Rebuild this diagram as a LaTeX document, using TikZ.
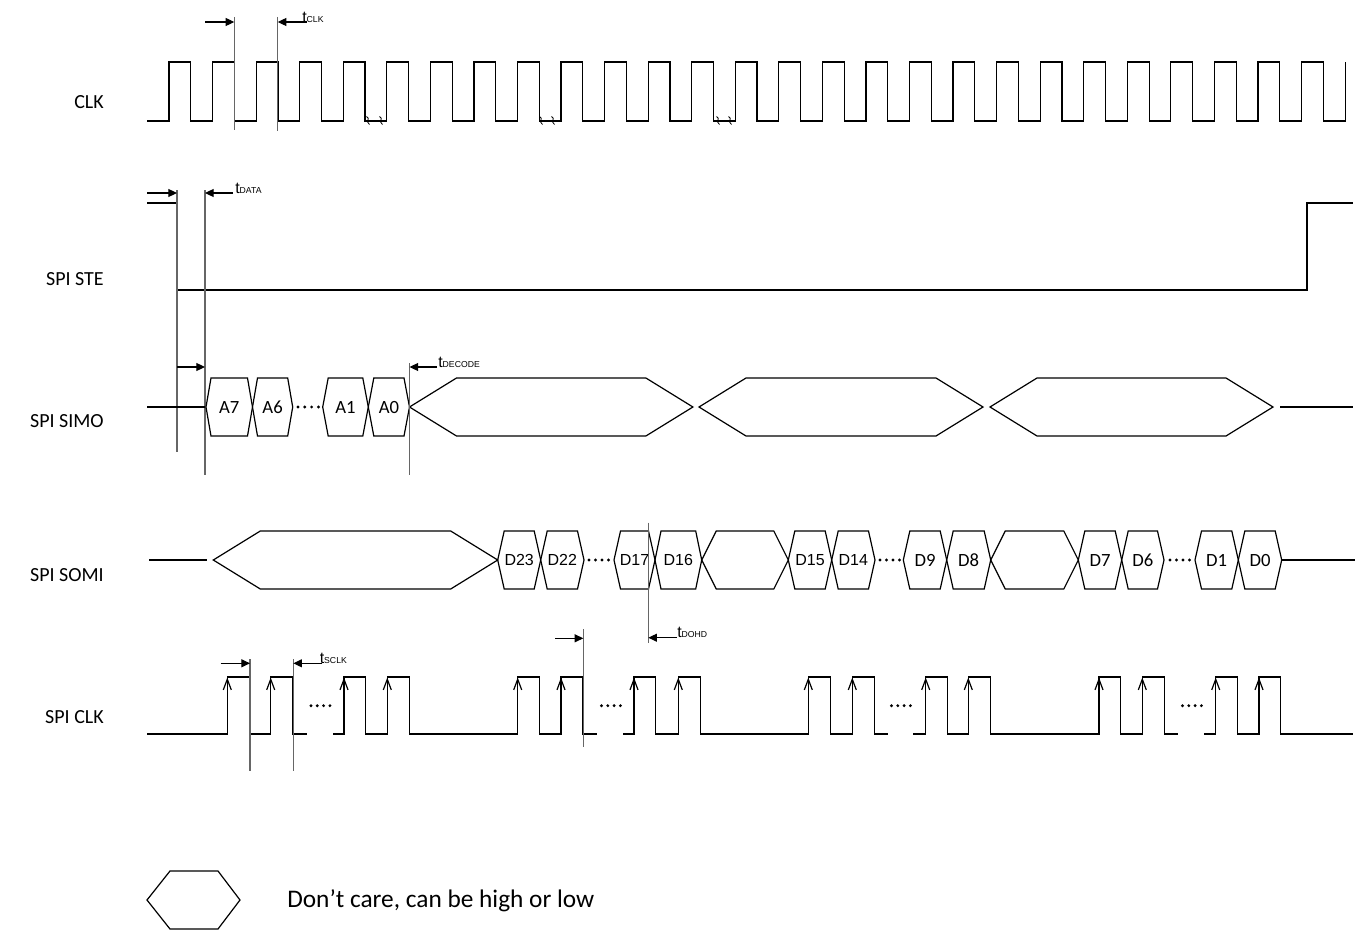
\documentclass[tikz,border=0pt]{standalone}
\usepackage{fontspec}
\setmainfont{Carlito}
\newfontfamily\arialfont{Liberation Sans}
\usetikzlibrary{arrows.meta}

\begin{document}
\begin{tikzpicture}[
    x=0.75pt, y=-0.75pt,
    sig/.style={line width=0.9pt, line join=miter},
    guide/.style={line width=0.8pt, draw=black!60},
    tarrow/.style={line width=0.8pt, -{Triangle[length=6.5pt,width=6pt]}},
    tlab/.style={inner sep=0pt, anchor=base west,
      font=\arialfont\fontsize{12}{12}\selectfont},
    rowlab/.style={anchor=east, inner sep=0pt, font=\fontsize{15}{18}\selectfont},
    cellc/.style={inner sep=0pt, text height=9pt, text depth=0pt,
      font=\fontsize{14}{16}\selectfont},
    cella/.style={inner sep=0pt, text height=8.6pt, text depth=0pt,
      font=\arialfont\fontsize{12}{14}\selectfont},
    rise/.style={line width=0.9pt, -{Straight Barb[length=8pt,width=6pt]}}
  ]
    \useasboundingbox (0,0) rectangle (1356,931);

    % row labels
    \node[rowlab] (lclk) at (104,102) {CLK};
    \node[rowlab] (lste) at (104,279) {SPI STE};
    \node[rowlab] (lsimo) at (104,421) {SPI SIMO};
    \node[rowlab] (lsomi) at (104,575) {SPI SOMI};
    \node[rowlab] (lsclk) at (104,717) {SPI CLK};

    % CLK
    \draw[sig] (147,121) -- (169,121)
      \foreach \k in {0,...,26} { -- ++(0,-59) -- ++(21.78,0) -- ++(0,59) -- ++(21.78,0) }
      -- ++(0,-59);
    \foreach \x in {368,381,541,553,718,730}
      \draw[line width=0.6pt] (\x-1.5,116.5) .. controls (\x+3,118.5) and (\x-3,121.5) .. (\x+1.5,124.5);
    \draw[guide] (234.3,17) -- (234.3,130);
    \draw[guide] (277.7,17) -- (277.7,131);
    \draw[tarrow] (205,22) -- (234.3,22);
    \draw[tarrow] (306.7,22) -- (277.7,22);
    \node[tlab] (tclk) at (302,22.3) {t{\fontsize{6.5}{7}\selectfont CLK}};

    % SPI STE
    \draw[sig] (147,203) -- (177,203) -- (177,290) -- (1307,290) -- (1307,203) -- (1353,203);
    \draw[guide] (177,190) -- (177,452);
    \draw[guide] (205,190) -- (205,475);
    \draw[tarrow] (147,193) -- (177,193);
    \draw[tarrow] (233,193) -- (205,193);
    \node[tlab] (tdata) at (235,193) {t{\fontsize{6.5}{7}\selectfont DATA}};

    % SPI SIMO
    \draw[sig] (147,407) -- (205,407);
    \draw[sig] (1280,407) -- (1353,407);
    \foreach \a/\b/\o/\l [count=\i] in {206/252.5/5/A7, 252.5/292.7/5/A6,
        322.7/368.3/5.5/A1, 368.3/409.5/5.5/A0, 409.5/692.9/47/,
        699/983/47/, 990/1273/47/} {
      \draw[sig] (\a,407) -- ({\a+\o},378) -- ({\b-\o},378) -- (\b,407)
        -- ({\b-\o},436) -- ({\a+\o},436) -- cycle;
      \node[cellc] (simo\i) at ({(\a+\b)/2},407) {\l};
    }
    \foreach \d in {0,...,3} \fill ({298+6.8*\d},407) circle (1.6);
    \draw[tarrow] (177,367) -- (205,367);
    \draw[guide] (409.5,363) -- (409.5,475);
    \draw[tarrow] (437,367) -- (409.5,367);
    \node[tlab] (tdecode) at (438,367.5) {t{\fontsize{6.5}{7}\selectfont DECODE}};

    % SPI SOMI
    \draw[sig] (149,560) -- (207.3,560);
    \draw[sig] (1281.7,560) -- (1355,560);
    \foreach \a/\b/\o/\l/\s [count=\i] in {213.3/497.7/47//cella,
        497.7/540.7/6.5/D23/cella, 540.7/584/6.5/D22/cella,
        614/655/6.5/D17/cella, 655/701.7/6/D16/cella,
        701.7/788.3/14.5//cella, 788.3/831.7/6.5/D15/cella,
        831.7/875/6.5/D14/cella, 903.3/946.7/6.5/D9/cellc,
        946.7/990.7/6.5/D8/cellc, 990.7/1078.3/14.5//cellc,
        1078.3/1121.7/6.5/D7/cellc, 1121.7/1164/6.5/D6/cellc,
        1195/1238.3/6.5/D1/cellc, 1238.3/1281.7/6.5/D0/cellc} {
      \draw[sig] (\a,560) -- ({\a+\o},531) -- ({\b-\o},531) -- (\b,560)
        -- ({\b-\o},589) -- ({\a+\o},589) -- cycle;
      \node[\s] (somi\i) at ({(\a+\b)/2},560) {\l};
    }
    \foreach \x in {589,880,1170}
      \foreach \d in {0,...,3} \fill ({\x+6.5*\d},560) circle (1.6);
    \draw[guide] (648.3,522.7) -- (648.3,643.3);
    \draw[tarrow] (676.7,637.7) -- (648.3,637.7);
    \node[tlab] (tdohd) at (677,637.7) {t{\fontsize{6.5}{7}\selectfont DOHD}};

    % SPI CLK
    \draw[sig] (147,734) \foreach \r in {227.3,270.7}
      { -- (\r,734) -- (\r,677) -- ({\r+21.8},677) -- ({\r+21.8},734) } -- (306.7,734);
    \draw[sig] (333.3,734) \foreach \r in {344,387.3,517.7,561}
      { -- (\r,734) -- (\r,677) -- ({\r+21.8},677) -- ({\r+21.8},734) } -- (597.3,734);
    \draw[sig] (623.3,734) \foreach \r in {634,678.3,808.3,852.3}
      { -- (\r,734) -- (\r,677) -- ({\r+21.8},677) -- ({\r+21.8},734) } -- (888.3,734);
    \draw[sig] (913.3,734) \foreach \r in {925.7,968.3,1099,1142.3}
      { -- (\r,734) -- (\r,677) -- ({\r+21.8},677) -- ({\r+21.8},734) } -- (1178.3,734);
    \draw[sig] (1204.3,734) \foreach \r in {1215.7,1259}
      { -- (\r,734) -- (\r,677) -- ({\r+21.8},677) -- ({\r+21.8},734) } -- (1353,734);
    \foreach \r in {227.3,270.7,344,387.3,517.7,561,634,678.3,808.3,852.3,
        925.7,968.3,1099,1142.3,1215.7,1259}
      \draw[rise] (\r,700) -- (\r,677.5);
    \foreach \x in {311,601.5,891.5,1182.5}
      \foreach \d in {0,...,3} \fill ({\x+6.3*\d},705.7) circle (1.6);
    \draw[guide] (250,659) -- (250,771);
    \draw[guide] (293.3,659) -- (293.3,771);
    \draw[tarrow] (220.7,663.3) -- (250,663.3);
    \draw[tarrow] (321.7,663.3) -- (293.3,663.3);
    \node[tlab] (tsclk) at (319.5,663.3) {t{\fontsize{6.5}{7}\selectfont SCLK}};
    \draw[guide] (583.3,629) -- (583.3,747);
    \draw[tarrow] (555,638.3) -- (583.3,638.3);

    % legend
    \draw[sig] (147,900) -- (170,871) -- (218,871) -- (240,900) -- (218,929)
      -- (170,929) -- cycle;
    \node[anchor=west, inner sep=0pt, font=\fontsize{19}{22}\selectfont]
      (legtxt) at (287,901) {Don’t care, can be high or low};
  \end{tikzpicture}
\end{document}
